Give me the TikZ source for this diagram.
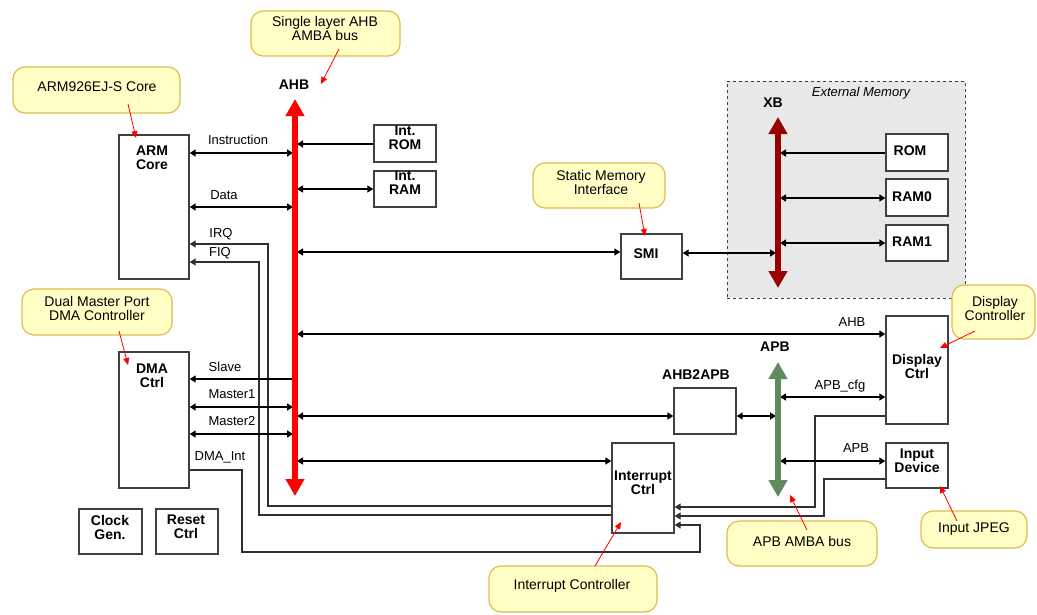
\documentclass[tikz,border=0pt]{standalone}
\usepackage{fontspec}
\setmainfont{Liberation Sans}
\usetikzlibrary{arrows.meta}
\definecolor{calloutfill}{HTML}{FFFFC6}
\definecolor{calloutdraw}{HTML}{E0BC4C}
\definecolor{xbred}{HTML}{990000}
\definecolor{apbgreen}{HTML}{5E8A5E}
\definecolor{boxdraw}{HTML}{404040}
\definecolor{extfill}{HTML}{E8E8E8}
\definecolor{wiregray}{HTML}{303030}
\tikzset{
  >={Triangle[length=6pt,width=7pt]},
  blk/.style={draw=boxdraw, line width=1.3pt, fill=white, inner sep=0pt},
  extbox/.style={draw=boxdraw, dashed, line width=1pt, fill=extfill, inner sep=0pt},
  callout/.style={draw=calloutdraw, fill=calloutfill, line width=1.2pt, rounded corners=12pt, inner sep=0pt},
  ctext/.style={font=\fontsize{14}{14}\selectfont, align=center, inner sep=0pt},
  btext/.style={font=\fontsize{14}{14}\selectfont\bfseries, align=center, inner sep=0pt},
  lbl/.style={font=\fontsize{13}{13}\selectfont, inner sep=0pt, text height=9.3pt, text depth=0pt},
  conn/.style={line width=1.6pt, black},
  wire/.style={line width=1.2pt, draw=wiregray},
  pointer/.style={red, line width=0.8pt, -{Triangle[length=7pt,width=6pt]}},
  busline/.style={line width=5.5pt, draw=#1, {Triangle[length=17pt,width=18pt]}-{Triangle[length=17pt,width=18pt]}},
}
\begin{document}
\begin{tikzpicture}[x=1pt,y=-1pt]
\fill[white] (0,0) rectangle (1037,614);
\useasboundingbox (0,0) rectangle (1037,614);

% external memory region
\node[extbox, minimum width=238pt, minimum height=217pt] (ext) at (846,189.5) {};
\node[font=\fontsize{13}{13}\selectfont\itshape, inner sep=0pt] (extl) at (861,93) {External Memory};

% blocks
\node[blk, minimum width=70pt, minimum height=144pt] (arm) at (154,207) {};
\node[blk, minimum width=70pt, minimum height=136pt] (dma) at (154,420) {};
\node[blk, minimum width=62pt, minimum height=37pt] (irom) at (405,143.5) {};
\node[blk, minimum width=62pt, minimum height=36pt] (iram) at (405,189) {};
\node[blk, minimum width=61pt, minimum height=45pt] (smi) at (651.5,256.5) {};
\node[blk, minimum width=62pt, minimum height=37pt] (rom) at (917,152.5) {};
\node[blk, minimum width=62pt, minimum height=37pt] (ram0) at (917,197.5) {};
\node[blk, minimum width=62pt, minimum height=36pt] (ram1) at (917,243) {};
\node[blk, minimum width=62pt, minimum height=108pt] (disp) at (917,370) {};
\node[blk, minimum width=62pt, minimum height=45pt] (inp) at (917,465.5) {};
\node[blk, minimum width=62pt, minimum height=46pt] (a2a) at (705,411) {};
\node[blk, minimum width=62pt, minimum height=90pt] (intc) at (643,488) {};
\node[blk, minimum width=63pt, minimum height=45pt] (clk) at (110.5,531.5) {};
\node[blk, minimum width=62pt, minimum height=45pt] (rst) at (187,531.5) {};

% block texts
\node[btext] (armt) at (152,158) {ARM\\Core};
\node[btext] (dmat) at (152,376) {DMA\\Ctrl};
\node[btext] (iromt) at (405,137.5) {Int.\\ROM};
\node[btext] (iramt) at (405,183) {Int.\\RAM};
\node[btext] (smit) at (646,254) {SMI};
\node[btext] (romt) at (910,151) {ROM};
\node[btext] (ram0t) at (912,197) {RAM0};
\node[btext] (ram1t) at (912,242) {RAM1};
\node[btext] (dispt) at (917,366) {Display\\Ctrl};
\node[btext] (inpt) at (917,461) {Input\\Device};
\node[btext] (intct) at (643,483) {Interrupt\\Ctrl};
\node[btext] (clkt) at (110,527) {Clock\\Gen.};
\node[btext] (rstt) at (186,527) {Reset\\Ctrl};
\node[btext] (a2al) at (696,375) {AHB2APB};
\node[btext] (ahbl) at (294,85) {AHB};
\node[btext] (xbl) at (773,103) {XB};
\node[btext] (apbl) at (775,347) {APB};

% bus reference coordinates
\coordinate (ahbT) at (295,99);
\coordinate (ahbB) at (295,496);
\coordinate (ahbL) at (293,0);
\coordinate (ahbC) at (295,0);
\coordinate (ahbR) at (297,0);
\coordinate (xbT) at (778,117);
\coordinate (xbB) at (778,288);
\coordinate (xbL) at (776,0);
\coordinate (xbR) at (780,0);
\coordinate (apbT) at (778,362);
\coordinate (apbB) at (778,497);
\coordinate (apbL) at (776,0);
\coordinate (apbR) at (780,0);

% interrupt wires
\draw[wire,->] (intc.west|-0,506) -| (268,244) -- (arm.east|-0,244);
\draw[wire,->] (intc.west|-0,515) -| (259,262) -- (arm.east|-0,262);
\draw[wire,->] (disp.west|-0,416) -| (815,507) -- (intc.east|-0,507);
\draw[wire,->] (inp.west|-0,479) -| (824,516) -- (intc.east|-0,516);
\draw[wire,->] (dma.east|-0,470) -| (242,552) -| (700,525) -- (intc.east|-0,525);

% connectors
\draw[conn,<->] (arm.east|-0,153) -- (ahbL|-0,153);
\draw[conn,->] (irom.west|-0,144) -- (ahbR|-0,144);
\draw[conn,<->] (ahbR|-0,189) -- (iram.west|-0,189);
\draw[conn,<->] (arm.east|-0,207) -- (ahbL|-0,207);
\draw[conn,<->] (ahbR|-0,252) -- (smi.west|-0,252);
\draw[conn,<->] (smi.east|-0,253) -- (xbL|-0,253);
\draw[conn,->] (rom.west|-0,153) -- (xbR|-0,153);
\draw[conn,<->] (xbR|-0,198) -- (ram0.west|-0,198);
\draw[conn,<->] (xbR|-0,243) -- (ram1.west|-0,243);
\draw[conn,<->] (ahbR|-0,334) -- (disp.west|-0,334);
\draw[conn,->] (ahbC|-0,379) -- (dma.east|-0,379);
\draw[conn,<->] (dma.east|-0,407) -- (ahbL|-0,407);
\draw[conn,<->] (dma.east|-0,434) -- (ahbL|-0,434);
\draw[conn,<->] (ahbR|-0,416) -- (a2a.west|-0,416);
\draw[conn,<->] (a2a.east|-0,416) -- (apbL|-0,416);
\draw[conn,<->] (apbR|-0,397) -- (disp.west|-0,397);
\draw[conn,<->] (apbR|-0,461) -- (inp.west|-0,461);
\draw[conn,<->] (ahbR|-0,461) -- (intc.west|-0,461);

% buses
\draw[busline=red] (ahbT) -- (ahbB);
\draw[busline=xbred] (xbT) -- (xbB);
\draw[busline=apbgreen] (apbT) -- (apbB);

% connector labels
\node[lbl] (l1) at (238,140) {Instruction};
\node[lbl] (l2) at (224,195) {Data};
\node[lbl] (l3) at (221,233) {IRQ};
\node[lbl] (l4) at (220,252) {FIQ};
\node[lbl] (l5) at (225,367) {Slave};
\node[lbl] (l6) at (232,394) {Master1};
\node[lbl] (l7) at (232,421) {Master2};
\node[lbl] (l8) at (220,456) {DMA\_Int};
\node[lbl] (l9) at (852,322) {AHB};
\node[lbl] (l10) at (840,385) {APB\_cfg};
\node[lbl] (l11) at (856,448) {APB};

% callouts
\node[callout, minimum width=149pt, minimum height=45pt] (c1) at (325.5,33.5) {};
\node[ctext] (c1t) at (325,28) {Single layer AHB\\AMBA bus};
\node[callout, minimum width=167pt, minimum height=46pt] (c2) at (96.5,90) {};
\node[ctext] (c2t) at (97,87) {ARM926EJ-S Core};
\node[callout, minimum width=150pt, minimum height=46pt] (c3) at (97,312) {};
\node[ctext] (c3t) at (97,308) {Dual Master Port\\DMA Controller};
\node[callout, minimum width=132pt, minimum height=45pt] (c4) at (599,185.5) {};
\node[ctext] (c4t) at (601,182) {Static Memory\\Interface};
\node[callout, minimum width=83pt, minimum height=54pt] (c5) at (993.5,312) {};
\node[ctext] (c5t) at (995,308) {Display\\Controller};
\node[callout, minimum width=168pt, minimum height=46pt] (c6) at (573,589) {};
\node[ctext] (c6t) at (572,586) {Interrupt Controller};
\node[callout, minimum width=150pt, minimum height=45pt] (c7) at (802,543.5) {};
\node[ctext] (c7t) at (802,541) {APB AMBA bus};
\node[callout, minimum width=106pt, minimum height=37pt] (c8) at (974,529.5) {};
\node[ctext] (c8t) at (974,529) {Input JPEG};

% pointers
\coordinate (p1s) at (339,49);  \coordinate (p1e) at (321,84);
\coordinate (p2s) at (128,104); \coordinate (p2e) at (136,138);
\coordinate (p3s) at (119,331); \coordinate (p3e) at (128,365);
\coordinate (p4s) at (639,203); \coordinate (p4e) at (645,236);
\coordinate (p5s) at (975,331); \coordinate (p5e) at (940,348);
\coordinate (p6s) at (595,566); \coordinate (p6e) at (621,522);
\coordinate (p7s) at (807,530); \coordinate (p7e) at (790,495);
\coordinate (p8s) at (957,521); \coordinate (p8e) at (940,486);
\draw[pointer] (p1s) -- (p1e);
\draw[pointer] (p2s) -- (p2e);
\draw[pointer] (p3s) -- (p3e);
\draw[pointer] (p4s) -- (p4e);
\draw[pointer] (p5s) -- (p5e);
\draw[pointer] (p6s) -- (p6e);
\draw[pointer] (p7s) -- (p7e);
\draw[pointer] (p8s) -- (p8e);
\end{tikzpicture}
\end{document}
